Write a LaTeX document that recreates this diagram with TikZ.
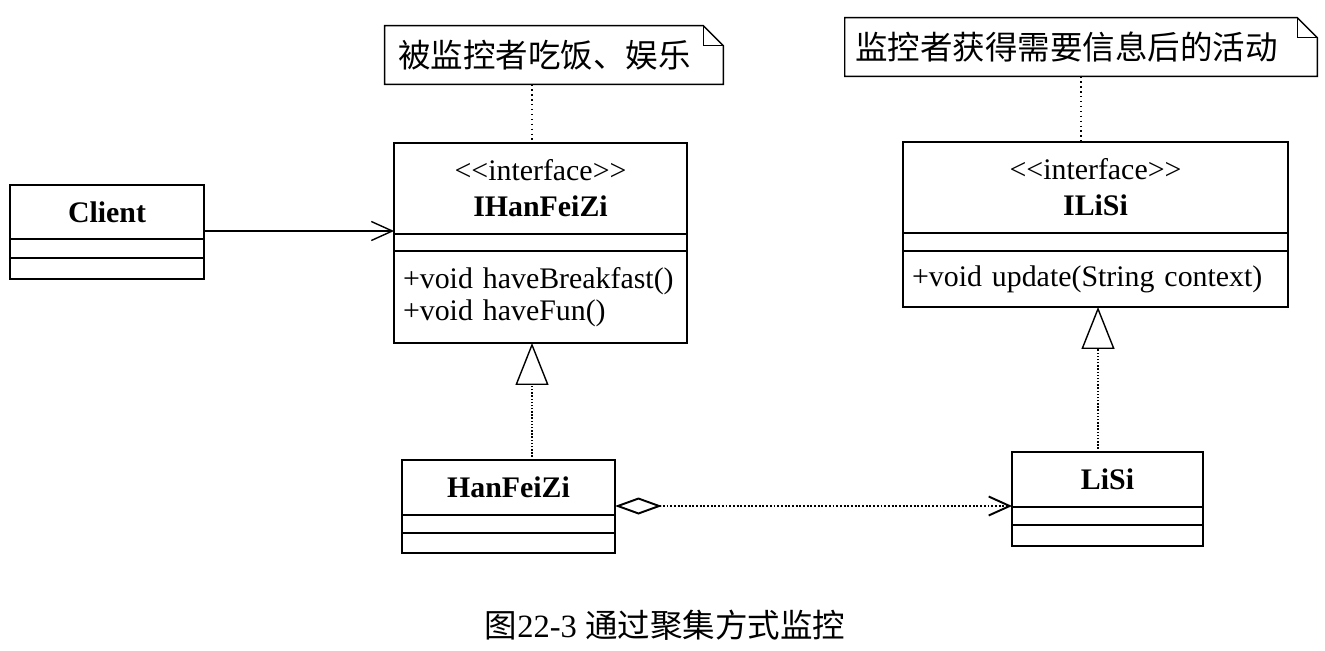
\documentclass[tikz,border=0pt]{standalone}
\usepackage{fontspec}
\setmainfont{Liberation Serif}
\newfontfamily\cjk{Noto Sans CJK SC}
\usetikzlibrary{positioning,arrows.meta}
\tikzset{
    >={Straight Barb[length=4.2mm,width=3.8mm]},
    part/.style={draw, line width=0.8pt, inner sep=0pt, outer sep=0pt},
    ops/.style={part, inner xsep=1.8mm, align=left, font=\fontsize{17}{18.2}\selectfont},
    note/.style={minimum height=1.16cm, align=left, font=\cjk\fontsize{18.5}{20}\selectfont},
    realize/.style={densely dotted, line width=0.8pt, -{Triangle[open,length=8.4mm,width=6.6mm]}},
    noteline/.style={dotted, line width=0.8pt},
    aggr/.style={densely dotted, line width=1.1pt, {Diamond[open,length=9.4mm,width=3.4mm]}->},
}

\begin{document}
\begin{tikzpicture}[x=0.02cm, y=-0.02cm, font=\fontsize{17}{20.4}\selectfont]
    \useasboundingbox (0,0) rectangle (1325,650);

    % notes
    \node[note, inner xsep=2.6mm, text width=6.24cm] (N1) at (554,55) {\cjk 被监控者吃饭、娱乐};
    \node[note, inner xsep=2mm, text width=9.04cm] (N2) at (1081,47) {\cjk 监控者获得需要信息后的活动};
    \foreach \n in {N1,N2} {
        \draw[line width=0.8pt] (\n.south west) -- (\n.north west) -- ([xshift=-4mm]\n.north east)
            -- ([yshift=-4mm]\n.north east) -- (\n.south east) -- cycle;
        \draw[line width=0.8pt] ([xshift=-4mm]\n.north east) |- ([yshift=-4mm]\n.north east);
    }

    % classes
    \node[part, minimum width=3.88cm, minimum height=1.08cm] (Client) at (107,212) {\textbf{Client}};
    \node[part, minimum width=3.88cm, minimum height=0.38cm, below=0pt of Client] (Client-a) {};
    \node[part, minimum width=3.88cm, minimum height=0.42cm, below=0pt of Client-a] (Client-o) {};

    \node[part, minimum width=5.86cm, minimum height=1.82cm, align=center] (IHanFeiZi) at (540.5,188.5)
        {{<}{<}interface{>}{>}\\\textbf{IHanFeiZi}};
    \node[part, minimum width=5.86cm, minimum height=0.34cm, below=0pt of IHanFeiZi] (IHanFeiZi-a) {};
    \node[ops, text width=5.5cm, minimum height=1.84cm, below=0pt of IHanFeiZi-a] (IHanFeiZi-o)
        {+void haveBreakfast()\\+void haveFun()};

    \node[part, minimum width=7.7cm, minimum height=1.82cm, align=center] (ILiSi) at (1095.5,187.5)
        {{<}{<}interface{>}{>}\\\textbf{ILiSi}};
    \node[part, minimum width=7.7cm, minimum height=0.36cm, below=0pt of ILiSi] (ILiSi-a) {};
    \node[ops, text width=7.34cm, minimum height=1.12cm, below=0pt of ILiSi-a] (ILiSi-o)
        {+void update(String context)};

    \node[part, minimum width=4.26cm, minimum height=1.1cm] (HanFeiZi) at (508.5,487.5) {\textbf{HanFeiZi}};
    \node[part, minimum width=4.26cm, minimum height=0.36cm, below=0pt of HanFeiZi] (HanFeiZi-a) {};
    \node[part, minimum width=4.26cm, minimum height=0.4cm, below=0pt of HanFeiZi-a] (HanFeiZi-o) {};

    \node[part, minimum width=3.82cm, minimum height=1.1cm] (LiSi) at (1107.5,479.5) {\textbf{LiSi}};
    \node[part, minimum width=3.82cm, minimum height=0.36cm, below=0pt of LiSi] (LiSi-a) {};
    \node[part, minimum width=3.82cm, minimum height=0.42cm, below=0pt of LiSi-a] (LiSi-o) {};

    % connectors
    \draw[->, line width=0.8pt] ([yshift=-3.8mm]Client.east) coordinate (c1) -- (c1 -| IHanFeiZi.west);
    \draw[realize] ([xshift=4.7mm]HanFeiZi.north) coordinate (r1) -- (r1 |- IHanFeiZi-o.south);
    \draw[realize] ([xshift=-1.9mm]LiSi.north) coordinate (r2) -- (r2 |- ILiSi-o.south);
    \draw[aggr] ([yshift=-3.7mm]HanFeiZi.east) coordinate (a1) -- (a1 -| LiSi.west);
    \draw[noteline] (r1 |- N1.south) -- (r1 |- IHanFeiZi.north);
    \draw[noteline] (N2.south) -- (N2.south |- ILiSi.north);

    \node[font=\fontsize{18.5}{20}\selectfont] (cap) at (665,625) {{\cjk 图}22-3 {\cjk 通过聚集方式监控}};
\end{tikzpicture}
\end{document}
